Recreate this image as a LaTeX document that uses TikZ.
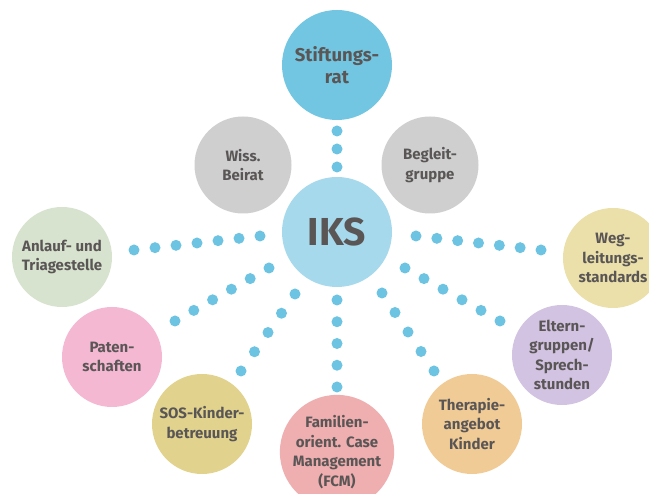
\documentclass[tikz,border=0pt]{standalone}
\usepackage{fontspec}
\setmainfont{Fira Sans}
\usetikzlibrary{calc}
\definecolor{txt}{HTML}{5A5656}
\definecolor{dotc}{HTML}{6CC4E2}
\definecolor{cStift}{HTML}{72C6E2}
\definecolor{cIKS}{HTML}{A6D9EC}
\definecolor{cGray}{HTML}{CFCFCF}
\definecolor{cGreen}{HTML}{D7E3CE}
\definecolor{cYellow}{HTML}{EBE0AA}
\definecolor{cPink}{HTML}{F5B8D3}
\definecolor{cLav}{HTML}{D1C3E1}
\definecolor{cOlive}{HTML}{E1D38D}
\definecolor{cSalmon}{HTML}{EFAEAF}
\definecolor{cPeach}{HTML}{F0CB96}
\tikzset{
  bub/.style={circle, inner sep=0pt, minimum size=100pt, align=center, text=txt,
    font=\fontsize{15}{19.5}\selectfont\bfseries},
  big/.style={bub, minimum size=110pt},
  dotn/.style={circle, fill=dotc, inner sep=0pt, minimum size=11pt}
}
\begin{document}
\begin{tikzpicture}[x=1pt,y=-1pt]
\useasboundingbox (0,0) rectangle (649,494);
\clip (0,0) rectangle (649,494);
\fill[white] (0,0) rectangle (649,494);
% circles
\node[big, fill=cStift, font=\fontsize{18.5}{22}\selectfont\bfseries] (stift) at (337,65) {Stiftungs-\\rat};
\node[big, fill=cIKS, font=\fontsize{39}{40}\selectfont\bfseries] (iks) at (337,232) {IKS};
\node[bub, minimum size=97pt, fill=cGray] (wiss) at (243,165) {Wiss.\\Beirat};
\node[bub, minimum size=97pt, fill=cGray] (begl) at (430,165) {Begleit-\\gruppe};
\node[bub, fill=cGreen] (anl) at (62,257) {Anlauf- und\\Triagestelle};
\node[bub, fill=cYellow] (weg) at (613,258) {Weg-\\leitungs-\\standards};
\node[bub, fill=cPink] (pat) at (112,357) {Paten-\\schaften};
\node[bub, fill=cLav] (elt) at (562,355) {Eltern-\\gruppen/\\Sprech-\\stunden};
\node[bub, fill=cOlive] (sos) at (202,424) {SOS-Kinder-\\betreuung};
\node[bub, fill=cSalmon] (fcm) at (337,452) {Familien-\\orient. Case\\Management\\(FCM)};
\node[bub, fill=cPeach] (ther) at (472,424) {Therapie-\\angebot\\Kinder};
% dotted connectors: end coordinates
\coordinate (s1) at (337,131); \coordinate (s2) at (337,167);
\coordinate (a1) at (260,236); \coordinate (a2) at (134,250);
\coordinate (w1) at (416,236); \coordinate (w2) at (541,250);
\coordinate (p1) at (269,268); \coordinate (p2) at (175,321);
\coordinate (k1) at (295,294); \coordinate (k2) at (241,371);
\coordinate (f1) at (337,300); \coordinate (f2) at (337,387);
\coordinate (t1) at (382,293); \coordinate (t2) at (434,371);
\coordinate (e1) at (405,268); \coordinate (e2) at (500,321);
\foreach \i in {0,1,2} \node[dotn] (ds\i) at ($(s1)!\i/2!(s2)$) {};
\foreach \i in {0,...,6} \node[dotn] (da\i) at ($(a1)!\i/6!(a2)$) {};
\foreach \i in {0,...,6} \node[dotn] (dw\i) at ($(w1)!\i/6!(w2)$) {};
\foreach \i in {0,...,5} \node[dotn] (dp\i) at ($(p1)!\i/5!(p2)$) {};
\foreach \i in {0,...,4} \node[dotn] (dk\i) at ($(k1)!\i/4!(k2)$) {};
\foreach \i in {0,...,4} \node[dotn] (df\i) at ($(f1)!\i/4!(f2)$) {};
\foreach \i in {0,...,4} \node[dotn] (dt\i) at ($(t1)!\i/4!(t2)$) {};
\foreach \i in {0,...,5} \node[dotn] (de\i) at ($(e1)!\i/5!(e2)$) {};
\end{tikzpicture}
\end{document}
